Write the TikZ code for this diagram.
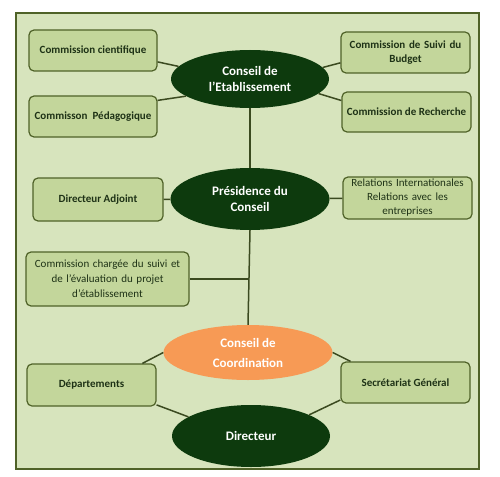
\documentclass[tikz,border=0pt]{standalone}
\usepackage{fontspec}
\setmainfont{Carlito}
\usepackage{tikz}
\usetikzlibrary{positioning, shapes.geometric}

\definecolor{fond}{HTML}{D7E4BD}
\definecolor{cadre}{HTML}{4F6228}
\definecolor{boxfill}{HTML}{C3D69B}
\definecolor{boxtext}{HTML}{1E3216}
\definecolor{vertfonce}{HTML}{0D3A0D}
\definecolor{orange}{HTML}{F79A55}
\definecolor{lien}{HTML}{3B4A20}

\begin{document}
\begin{tikzpicture}[x=1pt, y=-1pt,
	box/.style={draw=cadre, line width=1.2pt, fill=boxfill, rounded corners=5pt, text=boxtext, align=center, inner sep=2pt, font=\fontsize{11}{14}\selectfont\bfseries},
	organe/.style={ellipse, fill=vertfonce, text=white, align=center, inner sep=0pt, font=\fontsize{13}{16}\selectfont\bfseries},
	trait/.style={draw=lien, line width=1.5pt}]
		\useasboundingbox (0,0) rectangle (500,476);
		\draw[fill=fond, draw=cadre, line width=1.8pt] (16,13) rectangle (479,469);
		
		\node[box, minimum width=128pt, minimum height=41pt] (cientifique) at (93,50.5) {Commission cientifique};
		\node[box, minimum width=128pt, minimum height=41pt] (pedagogique) at (93,116.5) {Commisson\ \ Pédagogique};
		\node[box, minimum width=129pt, minimum height=41pt, text width=125pt] (budget) at (405.5,52.5) {Commission de Suivi du\\Budget};
		\node[box, minimum width=129pt, minimum height=40pt] (recherche) at (406.5,112) {Commission de Recherche};
		
		\node[organe, minimum width=158pt, minimum height=58pt] (conseil) at (250,79) {Conseil de\\l'Etablissement};
		
		\node[box, minimum width=130pt, minimum height=43pt] (adjoint) at (98,199.5) {Directeur Adjoint};
		\node[box, minimum width=129pt, minimum height=42pt, text width=125pt, font=\fontsize{11}{14}\selectfont] (relations) at (407.5,198) {Relations Internationales\\Relations avec les\\entreprises};
		
		\node[organe, minimum width=159pt, minimum height=62pt] (presidence) at (250,199) {Présidence du\\Conseil};
		
		\node[box, minimum width=163pt, minimum height=54pt, text width=157pt, font=\fontsize{11}{15}\selectfont] (chargee) at (107.5,279) {Commission chargée du suivi et\\de l'évaluation du projet\\d'établissement};
		
		\node[organe, fill=orange, minimum width=169pt, minimum height=55pt, font=\fontsize{13}{20}\selectfont\bfseries] (coordination) at (248,352.5) {Conseil de\\Coordination};
		
		\node[box, minimum width=129pt, minimum height=42pt] (departements) at (91.5,385) {Départements};
		\node[box, minimum width=129pt, minimum height=41pt] (secretariat) at (405.5,382.5) {Secrétariat Général};
		
		\node[organe, minimum width=158pt, minimum height=62pt] (directeur) at (251,436) {Directeur};
		
		% Draw edges
		\draw[trait] (cientifique.-10) -- (conseil.170);
		\draw[trait] (pedagogique.14) -- (conseil.-165);
		\draw[trait] (budget.-171) -- (conseil.9);
		\draw[trait] (recherche.170) -- (conseil.-12);
		
		\draw[trait] (conseil.south) -- (presidence.north);
		\draw[trait] (adjoint) -- (presidence);
		\draw[trait] (presidence) -- (relations);
		\draw[trait] (presidence.south) -- (coordination.north);
		\draw[trait] (chargee.east) -- (chargee.east -| coordination.north);
		
		\draw[trait] (departements.23) -- (coordination.west);
		\draw[trait] (departements.-17) -- (directeur.163);
		\draw[trait] (secretariat.159) -- (coordination.east);
		\draw[trait] (secretariat.-165) -- (directeur.20);
	\end{tikzpicture}
\end{document}
